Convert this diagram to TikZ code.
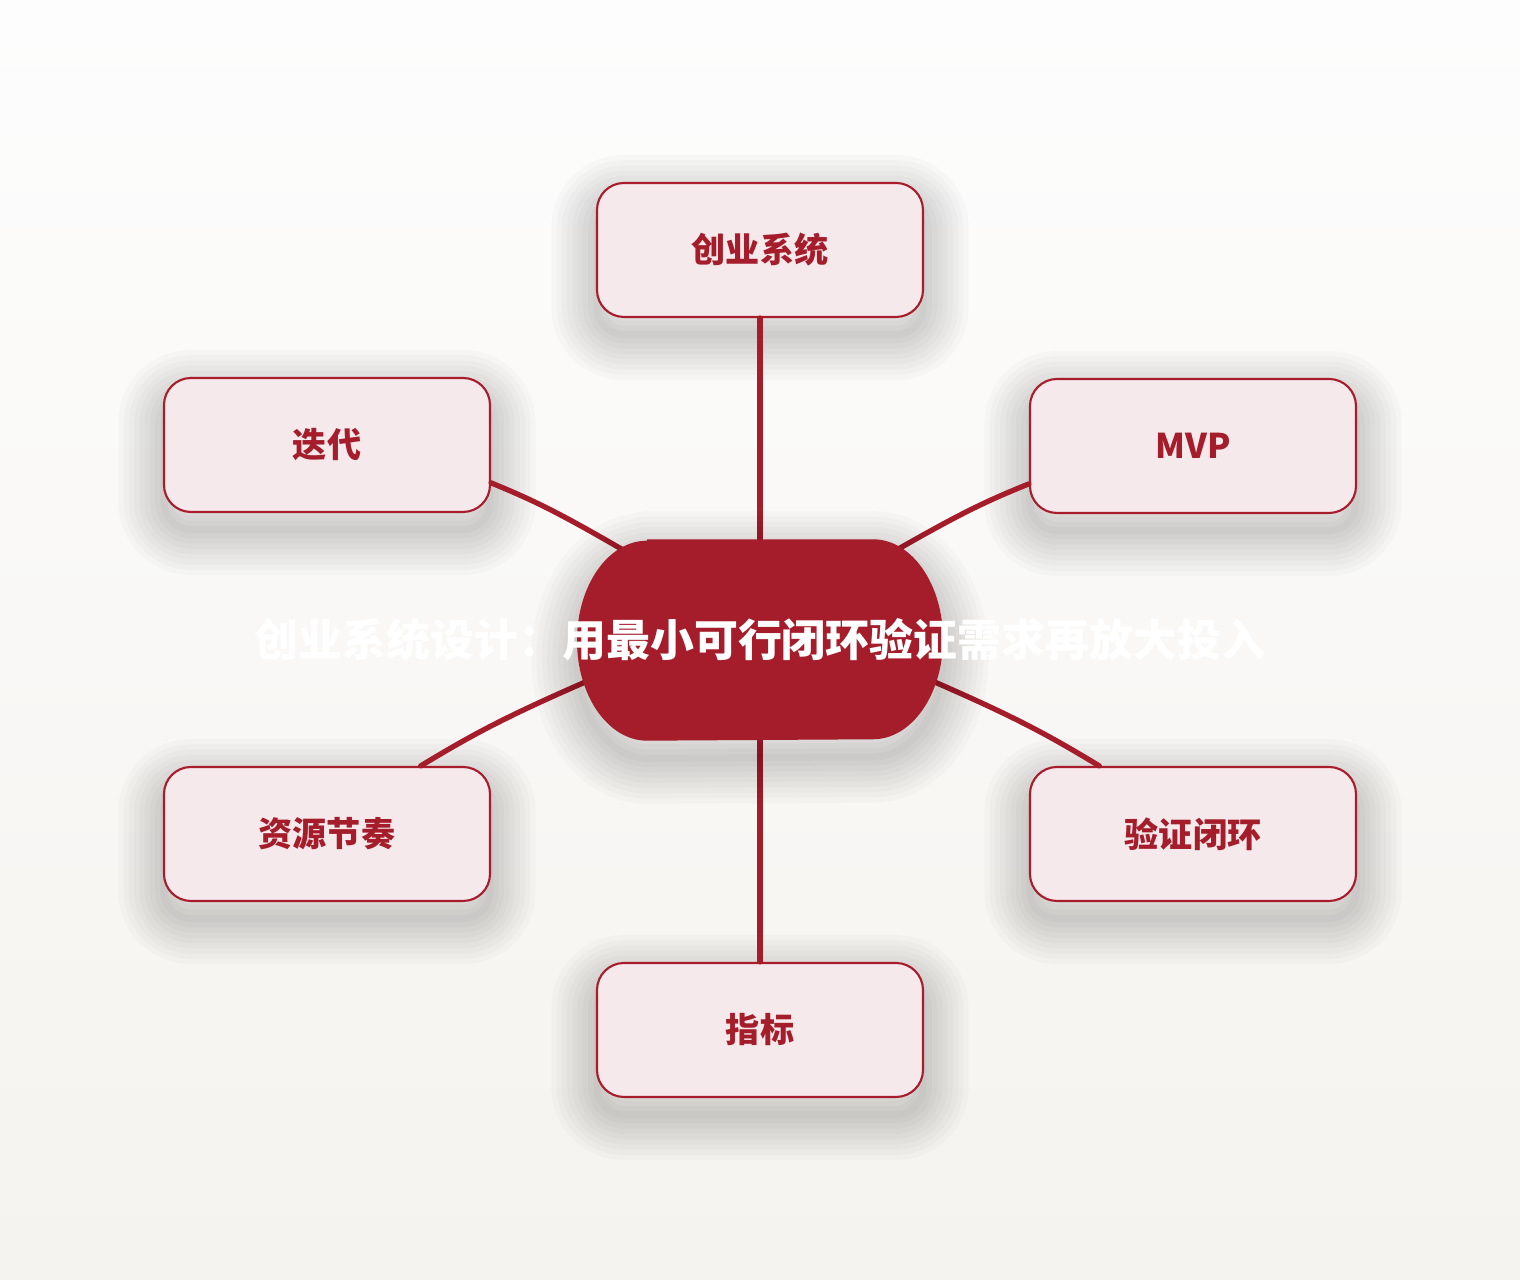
\documentclass[tikz,border=0pt]{standalone}
\usepackage{fontspec}
\newfontfamily\cjk{Noto Sans CJK SC}
\usetikzlibrary{calc}
\definecolor{deepred}{HTML}{A51C2A}
\definecolor{boxfill}{HTML}{F5E9EC}
\definecolor{boxline}{HTML}{A81C2C}
\definecolor{bgtop}{HTML}{FDFDFD}
\definecolor{bgbot}{HTML}{F5F3EF}
\tikzset{
  haze/.style={preaction={draw=black,draw opacity=0.02,line width=#1,line join=round,
    transform canvas={yshift=-5pt}}},
  soft/.style={haze=26pt,haze=23pt,haze=20pt,haze=17pt,haze=14pt,haze=11pt,haze=8pt,haze=5pt,haze=2pt},
  leaf/.style={soft,draw=boxline,line width=0.6pt,fill=boxfill,rounded corners=0.27cm,
    minimum width=3.26cm,minimum height=1.34cm,inner sep=0pt,
    font=\cjk\bfseries\fontsize{9.7}{12}\selectfont,text=deepred},
  link/.style={draw=deepred,line width=1.5pt,line cap=round,shorten >=-0.4cm},
  hubbox/.style={minimum width=3.66cm,minimum height=2cm,inner sep=0pt},
  hubtext/.style={text=white,font=\cjk\bfseries\fontsize{12.5}{15}\selectfont}
}
\begin{document}
\begin{tikzpicture}
\shade[top color=bgtop,bottom color=bgbot] (0,0) rectangle (15.2,-12.8);
\useasboundingbox (0,0) rectangle (15.2,-12.8);
% outer boxes
\node[leaf] (sys) at (7.60,-2.50) {\raisebox{-0.6pt}{创业系统}};
\node[leaf] (iter) at (3.27,-4.45) {\raisebox{-0.6pt}{迭代}};
\node[leaf] (mvp) at (11.93,-4.46) {\raisebox{-0.6pt}{MVP}};
\node[leaf] (res) at (3.27,-8.34) {\raisebox{-0.6pt}{资源节奏}};
\node[leaf] (loop) at (11.93,-8.34) {\raisebox{-0.6pt}{验证闭环}};
\node[leaf] (kpi) at (7.60,-10.30) {\raisebox{-0.6pt}{指标}};
% hub frame
\node[hubbox] (hub) at (7.60,-6.40) {};
% links
\draw[link] (sys.south) -- (hub.north);
\draw[link] (kpi.north) -- (hub.south);
\draw[link] (iter.-13.5) to[bend left=4] (hub.147);
\draw[link] (mvp.193.5) to[bend right=4] (hub.33);
\draw[link] (res.36) to[bend left=4] (hub.194);
\draw[link] (loop.144) to[bend right=4] (hub.-14);
% hub
\fill[deepred,soft]
  ($(hub.north)+(-1.13,0)$) -- ($(hub.north)+(1.13,0)$)
  arc[start angle=90,end angle=-90,x radius=0.70,y radius=1]
  -- ($(hub.south)+(-1.13,0)$)
  arc[start angle=270,end angle=90,x radius=0.70,y radius=1] -- cycle;
\node[hubtext] (title) at (hub) {创业系统设计：用最小可行闭环验证需求再放大投入};
\end{tikzpicture}
\end{document}
